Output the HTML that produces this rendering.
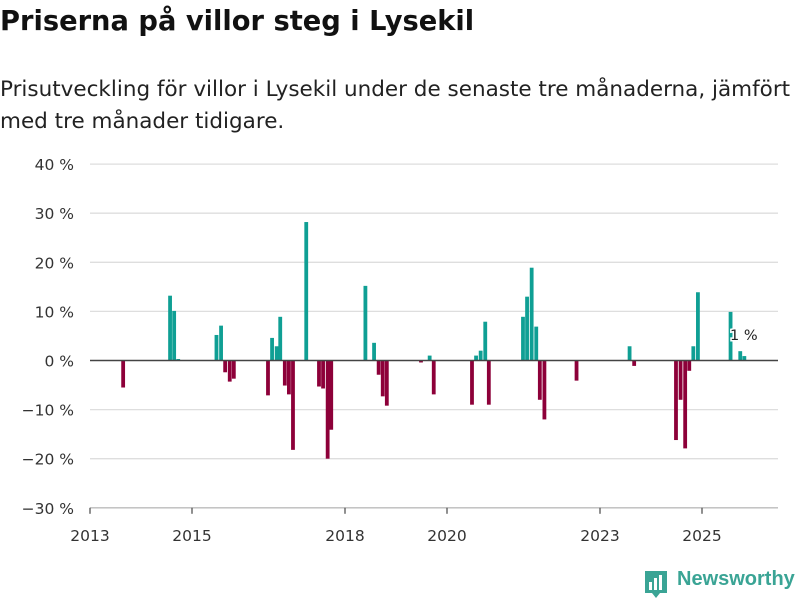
<!DOCTYPE html>
<html><head><meta charset="utf-8"><style>
body{margin:0;background:#fff;font-family:"DejaVu Sans","Liberation Sans",sans-serif;}
#wrap{position:relative;width:800px;height:600px;overflow:hidden;}
h1{position:absolute;left:0;top:6px;margin:0;font-size:27.3px;font-weight:bold;color:#111;white-space:nowrap}
p{position:absolute;left:0;top:74px;margin:0;font-size:21.5px;line-height:32px;color:#222;width:800px;white-space:nowrap}
</style></head><body>
<div id="wrap">
<h1>Priserna på villor steg i Lysekil</h1>
<p>Prisutveckling för villor i Lysekil under de senaste tre månaderna, jämfört<br>med tre månader tidigare.</p>
<svg id="chart" width="800" height="600" style="position:absolute;left:0;top:0"></svg>
</div>
<script>
const dates=[2013.65,2014.57,2014.65,2014.73,2015.48,2015.57,2015.65,2015.74,2015.82,2016.49,2016.57,2016.66,2016.73,2016.82,2016.90,2016.98,2017.24,2017.49,2017.57,2017.66,2017.73,2018.40,2018.57,2018.66,2018.74,2018.82,2019.49,2019.66,2019.74,2020.49,2020.57,2020.66,2020.75,2020.82,2021.49,2021.57,2021.66,2021.75,2021.82,2021.91,2022.54,2023.58,2023.67,2024.49,2024.58,2024.67,2024.75,2024.83,2024.92,2025.56,2025.75,2025.83];
const values=[-5.5,13.2,10.1,0.3,5.2,7.1,-2.4,-4.3,-3.7,-7.1,4.6,2.9,8.9,-5.1,-6.9,-18.2,28.2,-5.3,-5.7,-20,-14.1,15.2,3.6,-2.9,-7.3,-9.2,-0.4,1.0,-6.9,-9.0,1.0,2.0,7.9,-9.0,8.9,13.0,18.9,6.9,-8.0,-12.0,-4.1,2.9,-1.1,-16.2,-8.0,-17.9,-2.1,2.9,13.9,9.9,1.9,0.9];
const yTicks=[40,30,20,10,0,-10,-20,-30];
const xTicks=[2013,2015,2018,2020,2023,2025];
const NS="http://www.w3.org/2000/svg";
const svg=document.getElementById('chart');
const x=v=>90+(v-2013)*51;
const y=v=>360.5-v*4.91;
function mk(t,a){const e=document.createElementNS(NS,t);for(const k in a)e.setAttribute(k,a[k]);svg.appendChild(e);return e;}
yTicks.forEach(t=>{
 if(t!==-30&&t!==0){const g=mk('line',{x1:90,x2:778,y1:y(t),y2:y(t),stroke:'#dedede','stroke-width':1.3});
 
 }
 const l=mk('text',{x:74,y:y(t)+6,'text-anchor':'end','font-size':15.5,fill:'#333'});
 l.textContent=(t<0?'\u2212'+(-t):t)+' %';
 
 
});
const ax=mk('line',{x1:90,x2:778,y1:y(-30),y2:y(-30),stroke:'#bbb','stroke-width':1.3});


xTicks.forEach(t=>{
 const tk=mk('line',{x1:x(t),x2:x(t),y1:y(-30),y2:y(-30)+6,stroke:'#555','stroke-width':1.3});
 
 
 const l=mk('text',{x:x(t),y:541,'text-anchor':'middle','font-size':15.5,fill:'#333'});
 l.textContent=t;
 
 
});
dates.forEach((d,i)=>{
 const v=values[i];
 const r=mk('rect',{x:x(d)-1.9,width:3.8,y:Math.min(y(v),y(0)),height:Math.abs(y(v)-y(0)),fill:v>=0?'#0f9f94':'#8d0039'});
 
 
});
const z=mk('line',{x1:90,x2:778,y1:y(0),y2:y(0),stroke:'#444','stroke-width':1.6});


const lab=mk('text',{x:730,y:340,'font-size':14.5,fill:'#222',stroke:'#fff','stroke-width':3,'paint-order':'stroke'});
lab.textContent='1 %';


</script>
<svg width="30" height="30" style="position:absolute;left:643px;top:569px">
<path d="M2 2h22v22h-7l-4 5-4-5H2z" fill="#3aa495"/>
<rect x="6" y="13" width="3" height="8" fill="#fff"/><rect x="11" y="9" width="3" height="12" fill="#fff"/><rect x="16" y="6" width="3" height="15" fill="#fff"/>
</svg>
<div style="position:absolute;left:677px;top:568px;font-size:20px;font-weight:bold;color:#3aa495;font-family:'Liberation Sans',sans-serif">Newsworthy</div>
</body></html>
